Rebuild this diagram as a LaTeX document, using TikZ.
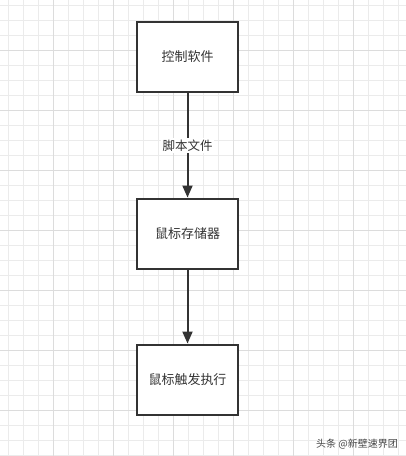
\documentclass[tikz,border=0pt]{standalone}
\usepackage{fontspec}
\newfontfamily\cjk{Noto Sans CJK SC}
\usetikzlibrary{arrows.meta}
\definecolor{ink}{HTML}{333333}
\definecolor{gminor}{HTML}{EBEBEB}
\definecolor{gmajor}{HTML}{DCDCDC}
\definecolor{wm}{HTML}{444444}
\tikzset{
  box/.style={draw=ink, line width=2pt, fill=white, minimum width=101pt, minimum height=70pt, inner sep=0pt, font=\cjk\fontsize{13pt}{15pt}\selectfont, text=ink},
  conn/.style={draw=ink, line width=2pt, -{Triangle[width=10pt,length=12pt]}},
  lbl/.style={fill=white, inner sep=1.5pt, font=\cjk\fontsize{12.5pt}{14pt}\selectfont, text=ink},
}
\begin{document}
\begin{tikzpicture}[x=1pt,y=-1pt]
\useasboundingbox (0,0) rectangle (406,456);
\fill[white] (0,0) rectangle (406,456);
\foreach \i in {0,...,26} {\draw[gminor, line width=1pt] ({8+15*\i},0) -- ({8+15*\i},456);}
\foreach \j in {0,...,30} {\draw[gminor, line width=1pt] (0,{5+15*\j}) -- (406,{5+15*\j});}
\foreach \i in {0,...,5} {\draw[gmajor, line width=1pt] ({53+60*\i},0) -- ({53+60*\i},456);}
\foreach \j in {0,...,6} {\draw[gmajor, line width=1pt] (0,{50+60*\j}) -- (406,{50+60*\j});}
\node[box] (a) at (187.5,57) {控制软件};
\node[box] (b) at (187.5,233.5) {鼠标存储器};
\node[box] (c) at (187.5,379.5) {鼠标触发执行};
\draw[conn] (a) -- node[lbl] (l) {脚本文件} (b);
\draw[conn] (b) -- (c);
\node[font=\cjk\fontsize{10pt}{12pt}\selectfont, text=wm, anchor=east, inner sep=0pt] (w) at (398,444) {头条 @新壁速界团};
\end{tikzpicture}
\end{document}
